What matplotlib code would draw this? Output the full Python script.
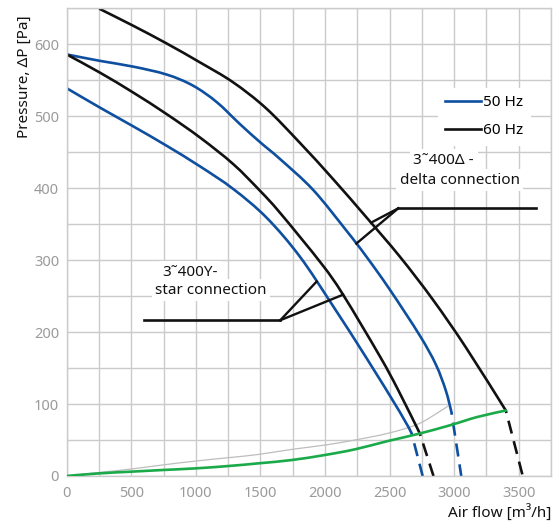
import matplotlib

matplotlib.use("Agg")

import matplotlib.pyplot as plt  # noqa: E402
import numpy as np  # noqa: E402
from matplotlib.lines import Line2D  # noqa: E402
from matplotlib.patches import PathPatch  # noqa: E402
from matplotlib.path import Path  # noqa: E402
from matplotlib.ticker import MultipleLocator  # noqa: E402

plt.rcParams["font.family"] = ["Noto Sans", "DejaVu Sans"]

# --- curve data (air flow m3/h, pressure Pa) ---
star50_x = [0, 258, 515, 774, 1031, 1289, 1548, 1805, 2063, 2321, 2579, 2670]
star50_y = [539, 512, 486, 459, 430.5, 399, 359, 305, 236, 164, 89, 59.6]

star60_x = [0, 258, 515, 774, 1032, 1289, 1496, 1651, 1973, 2140, 2424, 2566,
            2734]
star60_y = [586, 560.6, 533, 503, 470.5, 433.6, 396.6, 366, 295, 252,
            166.6, 119.7, 59.2]

delta50_x = [0, 258, 515, 774, 977, 1161, 1341, 1496, 1651, 1908, 2167, 2321,
             2502, 2734, 2858, 2935, 2979]
delta50_y = [586, 577, 569, 558, 542.7, 519.8, 489.2, 464.2, 440.7, 397.7,
             340.8, 304.8, 259, 195.2, 155, 119, 88.7]

delta60_x = [258, 513, 776, 1031, 1287, 1542, 1806, 2061, 2316, 2579, 2834,
             3090, 3400]
delta60_y = [649, 626, 601, 575, 547.4, 511.4, 463, 413, 360.5, 305,
             245.4, 178.9, 91]

# dashed run-out of each curve down to zero pressure
star50_tail_x, star50_tail_y = [2670, 2756], [59.6, 0]
star60_tail_x, star60_tail_y = [2734, 2840], [59.2, 0]
delta50_tail_x, delta50_tail_y = [2979, 3055], [88.7, 0]
delta60_tail_x, delta60_tail_y = [3400, 3531], [91, 0]

# system curves
green_x = [0, 257, 500, 743, 1000, 1256, 1487, 1744, 2000, 2231, 2487, 2718,
           2974, 3179, 3400]
green_y = [0, 3.7, 6, 8.3, 10.6, 13.9, 17.6, 22.2, 29.2, 37, 48.6, 58.3,
           70.8, 82, 91]
gray_x = [0, 257, 500, 743, 1000, 1256, 1487, 1744, 2000, 2231, 2487, 2718,
          2885, 2950]
gray_y = [0, 5, 9.7, 15.3, 20.8, 25.5, 30, 37, 43, 50, 59.3, 72, 89.3, 97]

x_ticks = [0, 500, 1000, 1500, 2000, 2500, 3000, 3500]
y_ticks = [0, 100, 200, 300, 400, 500, 600]

BLUE = "#0e4f9f"
BLACK = "#111111"
GREEN = "#1aaa4a"
GRID = "#cbcbcb"
TICK = "#9a9a9a"
FS = 11


def smooth_path(xs, ys):
    """Catmull-Rom through the read points, drawn as cubic Bezier segments."""
    p = np.column_stack([xs, ys]).astype(float)
    ext = np.vstack([p[0], p, p[-1]])
    verts = [p[0]]
    codes = [Path.MOVETO]
    for i in range(len(p) - 1):
        p0, p1, p2, p3 = ext[i], ext[i + 1], ext[i + 2], ext[i + 3]
        verts += [p1 + (p2 - p0) / 6, p2 - (p3 - p1) / 6, p2]
        codes += [Path.CURVE4] * 3
    return Path(verts, codes)


def curve(ax, xs, ys, color, lw, z=2):
    ax.add_patch(PathPatch(smooth_path(xs, ys), fill=False, edgecolor=color,
                           linewidth=lw, capstyle="round", zorder=z))


fig = plt.figure(figsize=(5.58, 5.26), dpi=100)
ax = fig.add_axes([0.1195, 0.0951, 0.868, 0.889])

ax.set_xlim(0, 3750)
ax.set_ylim(0, 650)
ax.set_xticks(x_ticks)
ax.set_yticks(y_ticks)
ax.xaxis.set_minor_locator(MultipleLocator(250))
ax.yaxis.set_minor_locator(MultipleLocator(50))
ax.grid(which="both", color=GRID, linewidth=1.0)
ax.set_axisbelow(True)
for sp in ax.spines.values():
    sp.set_color(GRID)
    sp.set_linewidth(1.0)
ax.tick_params(which="both", length=0, colors=TICK, labelsize=10.5)
ax.tick_params(axis="x", pad=7)
ax.tick_params(axis="y", pad=5.5)

lw = 1.9
dash = (4.0, (5, 3))
curve(ax, gray_x, gray_y, "#bdbdbd", 0.9)
curve(ax, green_x, green_y, GREEN, lw, z=4)
curve(ax, star50_x, star50_y, BLUE, lw)
curve(ax, delta50_x, delta50_y, BLUE, lw)
curve(ax, star60_x, star60_y, BLACK, lw)
curve(ax, delta60_x, delta60_y, BLACK, lw)
ax.plot(star50_tail_x, star50_tail_y, color=BLUE, linewidth=lw, linestyle=dash)
ax.plot(delta50_tail_x, delta50_tail_y, color=BLUE, linewidth=lw, linestyle=dash)
ax.plot(star60_tail_x, star60_tail_y, color=BLACK, linewidth=lw, linestyle=dash)
ax.plot(delta60_tail_x, delta60_tail_y, color=BLACK, linewidth=lw, linestyle=dash)

# leader lines for the connection notes, ending on the curves
d_hub, d_y, d_end = 2567, 372, 3633
d_hits = [(2356, np.interp(2356, delta60_x, delta60_y)),
          (2243, np.interp(2243, delta50_x, delta50_y))]
ax.plot([d_hub, d_end], [d_y, d_y], color=BLACK, linewidth=lw)
for hx, hy in d_hits:
    ax.plot([d_hub, hx], [d_y, hy], color=BLACK, linewidth=lw * 0.9)

s_start, s_hub, s_y = 602, 1654, 216.5
s_hits = [(1935, np.interp(1935, star50_x, star50_y)),
          (2140, np.interp(2140, star60_x, star60_y))]
ax.plot([s_start, s_hub], [s_y, s_y], color=BLACK, linewidth=lw)
for hx, hy in s_hits:
    ax.plot([s_hub, hx], [s_y, hy], color=BLACK, linewidth=lw * 0.9)

box = dict(facecolor="white", edgecolor="none", pad=2.5)
txt = dict(fontsize=FS, color="#111111", ha="left", va="center", bbox=box)
ax.text(2577, 411, "delta connection", **txt)
ax.text(2685, 439, "3˜400Δ -", **txt)
ax.text(685, 258, "star connection", **txt)
ax.text(741, 283, "3˜400Y-", **txt)

handles = [Line2D([], [], color=BLUE, linewidth=lw, label="50 Hz"),
           Line2D([], [], color=BLACK, linewidth=lw, label="60 Hz")]
leg = ax.legend(handles=handles, loc="upper right",
                bbox_to_anchor=(0.958, 0.830),
                fontsize=FS, frameon=True, fancybox=False,
                handlelength=2.3, handletextpad=0.15, labelspacing=0.85,
                borderpad=0.5, borderaxespad=0)
leg.get_frame().set_facecolor("white")
leg.get_frame().set_edgecolor("none")
leg.get_frame().set_alpha(1)

ax.set_ylabel("Pressure, ΔP [Pa]", fontsize=FS, color="#111111", loc="top")
ax.yaxis.set_label_coords(-0.072, 0.986)
ax.set_xlabel("Air flow [m³/h]", fontsize=FS, color="#111111", loc="right")
ax.xaxis.set_label_coords(1.0, -0.062)

fig.savefig("out.png", dpi=100, facecolor="white")
plt.close(fig)
